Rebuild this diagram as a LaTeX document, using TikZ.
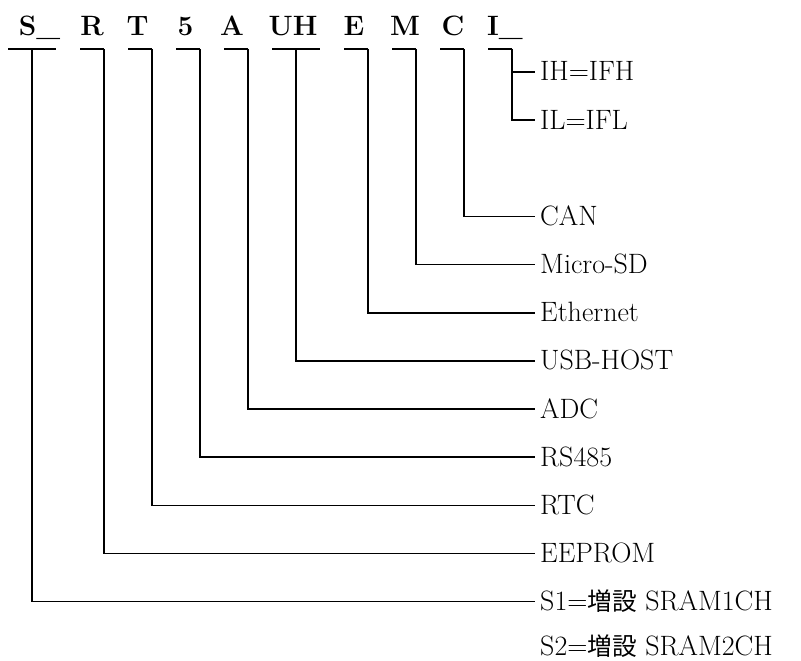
\documentclass[tikz,border=0pt]{standalone}
\usepackage{fontspec}
\newfontfamily\cjk[Scale=0.88]{Noto Sans CJK JP}

\begin{document}
\begin{tikzpicture}[x=1pt,y=-1pt,code/.style={font=\fontsize{28}{28}\selectfont\bfseries, anchor=base, inner sep=0pt},item/.style={font=\fontsize{28}{28}\selectfont, anchor=west, inner xsep=5pt, inner ysep=0pt, text height=18pt, text depth=0pt},wire/.style={line width=1.6pt}]
\useasboundingbox (0,0) rectangle (801,661);
% code letters of the part number
\foreach \n/\x/\t in {S/39.5/S\_, R/92/R, T/137.5/T, F/185.5/5, A/232/A, U/293/UH, E/354/E, M/405/M, C/453/C, I/505/I\_} {\node[code] (c\n) at (\x,36) {\t};}
% underline under each letter, with the point where its branch leaves
\foreach \n/\a/\b/\v in {S/8/56/32, R/80/104/104, T/128/152/152, F/176/200/200, A/224/248/248, U/272/320/296, E/344/368/368, M/392/416/416, C/440/464/464, I/488/512/512} {\draw[wire] (\a,49) -- (\b,49);\coordinate (b\n) at (\v,49);}
% options on the right
\foreach \n/\k/\t in {IH/0/IH=IFH, IL/1/IL=IFL, CAN/3/CAN, SD/4/Micro-SD, ETH/5/Ethernet, USB/6/USB-HOST, ADC/7/ADC, RS/8/RS485, RTC/9/RTC, EEP/10/EEPROM, SA/11/{S1={\cjk 増設} SRAM1CH}, SB/11.93/{S2={\cjk 増設} SRAM2CH}} {\node[item] (l\n) at (535,72+48.15*\k) {\t};}
\foreach \b/\l in {I/IH, I/IL, C/CAN, M/SD, E/ETH, U/USB, A/ADC, F/RS, T/RTC, R/EEP, S/SA} {\draw[wire] (b\b) |- (l\l.west);}
\end{tikzpicture}
\end{document}
